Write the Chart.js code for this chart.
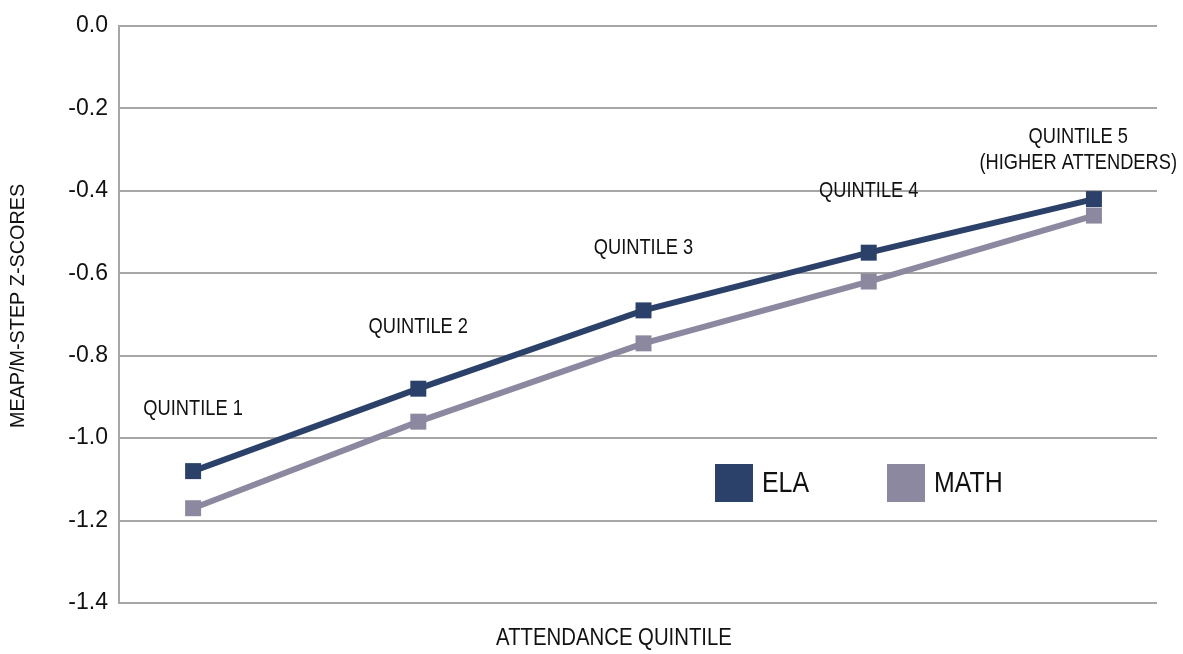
<!DOCTYPE html>
<html>
<head>
<meta charset="utf-8">
<script src="https://cdn.jsdelivr.net/npm/chart.js@4.4.1/dist/chart.umd.min.js"></script>
<style>
  html, body { margin: 0; padding: 0; background: #ffffff; }
  #wrap { width: 1183px; height: 654px; position: relative; }
</style>
</head>
<body>
<div id="wrap"><canvas id="c" width="1183" height="654"></canvas></div>
<script>
// ---- data ----
const quintilePositions = [1, 2, 3, 4, 5];
const quintileLabels = [
  ["QUINTILE 1"],
  ["QUINTILE 2"],
  ["QUINTILE 3"],
  ["QUINTILE 4"],
  ["QUINTILE 5", "(HIGHER ATTENDERS)"]
];
const elaValues  = [-1.08, -0.88, -0.69, -0.55, -0.42];
const mathValues = [-1.17, -0.96, -0.77, -0.62, -0.46];
const seriesNames = ["ELA", "MATH"];
const yTickValues = [0.0, -0.2, -0.4, -0.6, -0.8, -1.0, -1.2, -1.4];
const yAxisTitle = "MEAP/M-STEP Z-SCORES";
const xAxisTitle = "ATTENDANCE QUINTILE";

// ---- styles ----
const SANS = '"Liberation Sans", Arial, sans-serif';
const NARROW_K = 0.83;           // horizontal squeeze to mimic a narrow face
const ELA_COLOR = '#2b4169';
const MATH_COLOR = '#8b88a0';
const GRID_COLOR = '#a6a6a6';
const TEXT_COLOR = '#111111';

const toPoints = vals => vals.map((v, i) => ({ x: quintilePositions[i], y: v }));

function drawText(ctx, text, x, y, size, k, rot, align) {
  ctx.save();
  ctx.translate(x, y);
  if (rot) ctx.rotate(rot);
  ctx.scale(k, 1);
  ctx.font = size + 'px ' + SANS;
  ctx.textAlign = align || 'center';
  ctx.textBaseline = 'middle';
  ctx.fillStyle = TEXT_COLOR;
  ctx.fillText(text, 0, 0);
  ctx.restore();
}
function textWidth(ctx, text, size, k) {
  ctx.save();
  ctx.font = size + 'px ' + SANS;
  const w = ctx.measureText(text).width * k;
  ctx.restore();
  return w;
}

const annotationsPlugin = {
  id: 'annotations',
  afterDatasetsDraw(chart) {
    const { ctx, scales: { x, y }, chartArea, width } = chart;
    // quintile labels above ELA points (kept inside the canvas)
    quintileLabels.forEach((lines, i) => {
      let px = x.getPixelForValue(quintilePositions[i]);
      const maxW = Math.max(...lines.map(t => textWidth(ctx, t, 22, NARROW_K)));
      if (px + maxW / 2 > width - 6) px = width - 6 - maxW / 2;
      const py = y.getPixelForValue(elaValues[i]) - 62;
      lines.forEach((t, j) => drawText(ctx, t, px, py + j * 26, 22, NARROW_K));
    });
    // legend inside plot area
    const items = [
      { name: seriesNames[0], color: ELA_COLOR, left: 596 },
      { name: seriesNames[1], color: MATH_COLOR, left: 768 }
    ];
    items.forEach(it => {
      const lx = chartArea.left + it.left;
      const ly = chartArea.top + 438;
      ctx.save();
      ctx.fillStyle = it.color;
      ctx.fillRect(lx, ly, 38, 38);
      ctx.restore();
      drawText(ctx, it.name, lx + 47, ly + 20, 30, NARROW_K, 0, 'left');
    });
    // axis titles
    drawText(ctx, xAxisTitle, chartArea.left + 495, 638.5, 24.5, NARROW_K);
    drawText(ctx, yAxisTitle, 18.5, chartArea.top + 280, 20, 0.99, -Math.PI / 2);
  }
};

new Chart(document.getElementById('c'), {
  type: 'line',
  data: {
    datasets: [
      {
        label: seriesNames[1],
        data: toPoints(mathValues),
        borderColor: MATH_COLOR,
        backgroundColor: MATH_COLOR,
        borderWidth: 6,
        pointStyle: 'rect',
        pointRadius: 11.3,
        pointBorderWidth: 0,
        tension: 0
      },
      {
        label: seriesNames[0],
        data: toPoints(elaValues),
        borderColor: ELA_COLOR,
        backgroundColor: ELA_COLOR,
        borderWidth: 6,
        pointStyle: 'rect',
        pointRadius: 11.3,
        pointBorderWidth: 0,
        tension: 0
      }
    ]
  },
  options: {
    responsive: false,
    animation: false,
    layout: { padding: { top: 26, right: 26, bottom: 0, left: 0 } },
    plugins: { legend: { display: false }, tooltip: { enabled: false } },
    scales: {
      x: {
        type: 'linear',
        min: 0.671,
        max: 5.28,
        grid: { display: false },
        border: { display: false },
        ticks: { display: false },
        afterFit(scale) { scale.height = 51; }
      },
      y: {
        min: -1.4,
        max: 0,
        afterBuildTicks(scale) { scale.ticks = yTickValues.map(v => ({ value: v })); },
        ticks: {
          color: TEXT_COLOR,
          font: { family: SANS, size: 23 },
          padding: 11,
          callback: v => Number(v).toFixed(1)
        },
        grid: { color: GRID_COLOR, lineWidth: 2, drawTicks: false },
        border: { color: GRID_COLOR, width: 2 },
        afterFit(scale) { scale.width = 119; }
      }
    }
  },
  plugins: [annotationsPlugin]
});
</script>
</body>
</html>
